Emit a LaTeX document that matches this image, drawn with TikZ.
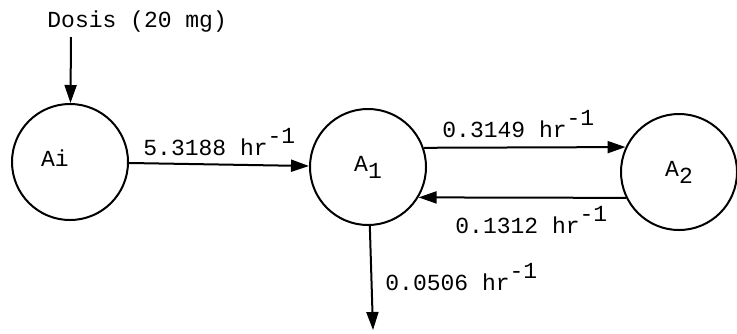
\documentclass[tikz,border=0pt]{standalone}
\usepackage{fontspec}
\setmonofont{Liberation Mono}
\usetikzlibrary{arrows.meta}

\newcommand{\perhr}{hr\raisebox{6pt}{-1}}
\newcommand{\subidx}[1]{\raisebox{-3.5pt}{#1}}

\begin{document}
\begin{tikzpicture}[x=0.5pt,y=-0.5pt,
  every node/.style={font=\ttfamily\fontsize{11.5}{13}\selectfont},
  comp/.style={circle,draw,line width=1pt,minimum size=58pt,inner sep=0pt},
  flow/.style={line width=1pt,-{Triangle[length=9pt,width=6pt]}},
  rate/.style={anchor=base west,inner sep=0pt}]
  \useasboundingbox (0,0) rectangle (737,333);

  \node[comp,label={[xshift=-7.5pt,yshift=2pt]center:Ai}] (Ai) at (70,162) {};
  \node[comp] (A1) at (368,167) {A\subidx{1}};
  \node[comp] (A2) at (679,172) {A\subidx{2}};

  \node[rate] (dosis) at (47,27) {Dosis (20 mg)};
  \coordinate (dose) at (71,37);
  \coordinate (exit) at (373,330);

  \draw[flow] (dose) -- (Ai);
  \draw[flow] (Ai) -- (A1);
  \draw[flow] (A1.19) -- (A2.155);
  \draw[flow] (A2.206) -- (A1.-31);
  \draw[flow] (A1) -- (exit);

  \node[rate] at (143,155) {5.3188 \perhr};
  \node[rate] at (442,137) {0.3149 \perhr};
  \node[rate] at (455,233) {0.1312 \perhr};
  \node[rate] at (385,290) {0.0506 \perhr};
\end{tikzpicture}
\end{document}
